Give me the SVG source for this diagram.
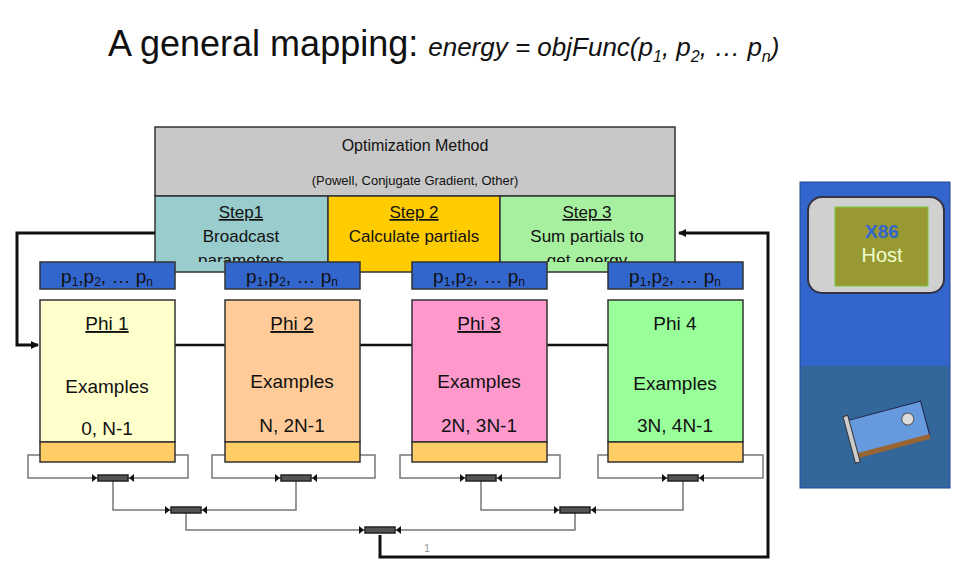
<svg xmlns="http://www.w3.org/2000/svg" width="960" height="578" viewBox="0 0 960 578">
<style>
text{font-family:"Liberation Sans",Arial,sans-serif;fill:#111}
.b{stroke:#333;stroke-width:1.5}
.t{font-size:17px;text-anchor:middle}
.u{text-decoration:underline}
.p{font-size:19px;text-anchor:middle;fill:#111}
.w{fill:none;stroke:#777;stroke-width:1.5}
.k{fill:none;stroke:#111;stroke-width:3}
.chip{fill:#555;stroke:#222;stroke-width:1.5}
</style>
<defs>
<marker id="ar" markerWidth="8" markerHeight="8" refX="7" refY="4" orient="auto" markerUnits="userSpaceOnUse"><path d="M0,0L8,4L0,8z" fill="#111"/></marker>
<g id="ch"><rect class="chip" x="-15" y="-3" width="30" height="6"/><path d="M-21,-4L-16,0L-21,4zM21,-4L16,0L21,4z" fill="#111"/></g>
<clipPath id="c1"><rect x="155" y="196" width="520" height="66"/></clipPath>
</defs>
<text x="108" y="56" style="font-size:36px">A general mapping: <tspan style="font-size:26px;font-style:italic">energy = objFunc(p<tspan font-size="16" dy="6">1</tspan><tspan dy="-6">, p</tspan><tspan font-size="16" dy="6">2</tspan><tspan dy="-6">, … p</tspan><tspan font-size="16" dy="6">n</tspan><tspan dy="-6">)</tspan></tspan></text>

<g id="opt">
<rect class="b" x="155" y="127" width="520" height="69" fill="#c8c8c8"/>
<text class="t" x="415" y="151" style="font-size:16px">Optimization Method</text>
<text class="t" x="415" y="185" style="font-size:13px">(Powell, Conjugate Gradient, Other)</text>
</g>
<g id="step1"><rect class="b" x="155" y="196" width="173" height="76" fill="#99cccc"/>
<text class="t u" x="241" y="218">Step1</text><text class="t" x="241" y="242">Broadcast</text><text class="t" x="241" y="266" clip-path="url(#c1)">parameters</text></g>
<g id="step2"><rect class="b" x="328" y="196" width="172" height="76" fill="#ffcc00"/>
<text class="t u" x="414" y="218">Step 2</text><text class="t" x="414" y="242">Calculate partials</text></g>
<g id="step3"><rect class="b" x="500" y="196" width="175" height="76" fill="#a6f0a0"/>
<text class="t u" x="587" y="218">Step 3</text><text class="t" x="587" y="242">Sum partials to</text><text class="t" x="587" y="266" clip-path="url(#c1)">get energy</text></g>

<g id="connectors">
<line x1="175" y1="345" x2="608" y2="345" stroke="#111" stroke-width="2.5"/>
<path class="k" d="M155,233H17V345H38" marker-end="url(#ar)"/>
<path class="k" d="M380,535V557H768V233H679" marker-end="url(#ar)"/>
<path class="w" d="M40,455H28V478H188V455H175M225,455H212V478H375V455H360M412,455H400V478H560V455H547M608,455H598V478H763V455H743"/>
<path class="w" d="M113,478V510H296V478M481,478V510H683V478M186,510V530H575V510"/>
<use href="#ch" x="113" y="478"/><use href="#ch" x="296" y="478"/><use href="#ch" x="481" y="478"/><use href="#ch" x="683" y="478"/>
<use href="#ch" x="186" y="510"/><use href="#ch" x="575" y="510"/><use href="#ch" x="380" y="530"/>
<text x="424" y="552" style="font-size:11px;fill:#999">1</text>
</g>

<g id="phi1"><rect class="b" x="40" y="262" width="135" height="27" fill="#3366cc"/><text class="p" x="107" y="283">p<tspan font-size="12" dy="3">1</tspan><tspan dy="-3">,p</tspan><tspan font-size="12" dy="3">2</tspan><tspan dy="-3">, … p</tspan><tspan font-size="12" dy="3">n</tspan></text>
<rect class="b" x="40" y="300" width="135" height="142" fill="#ffffcc"/><rect class="b" x="40" y="442" width="135" height="20" fill="#ffcc66"/>
<text class="p u" x="107" y="330">Phi 1</text><text class="p" x="107" y="393">Examples</text><text class="p" x="107" y="435">0, N-1</text></g>
<g id="phi2"><rect class="b" x="225" y="262" width="135" height="27" fill="#3366cc"/><text class="p" x="292" y="283">p<tspan font-size="12" dy="3">1</tspan><tspan dy="-3">,p</tspan><tspan font-size="12" dy="3">2</tspan><tspan dy="-3">, … p</tspan><tspan font-size="12" dy="3">n</tspan></text>
<rect class="b" x="225" y="300" width="135" height="142" fill="#ffcc99"/><rect class="b" x="225" y="442" width="135" height="20" fill="#ffcc66"/>
<text class="p u" x="292" y="330">Phi 2</text><text class="p" x="292" y="388">Examples</text><text class="p" x="292" y="432">N, 2N-1</text></g>
<g id="phi3"><rect class="b" x="412" y="262" width="135" height="27" fill="#3366cc"/><text class="p" x="479" y="283">p<tspan font-size="12" dy="3">1</tspan><tspan dy="-3">,p</tspan><tspan font-size="12" dy="3">2</tspan><tspan dy="-3">, … p</tspan><tspan font-size="12" dy="3">n</tspan></text>
<rect class="b" x="412" y="300" width="135" height="142" fill="#ff99cc"/><rect class="b" x="412" y="442" width="135" height="20" fill="#ffcc66"/>
<text class="p u" x="479" y="330">Phi 3</text><text class="p" x="479" y="388">Examples</text><text class="p" x="479" y="432">2N, 3N-1</text></g>
<g id="phi4"><rect class="b" x="608" y="262" width="135" height="27" fill="#3366cc"/><text class="p" x="675" y="283">p<tspan font-size="12" dy="3">1</tspan><tspan dy="-3">,p</tspan><tspan font-size="12" dy="3">2</tspan><tspan dy="-3">, … p</tspan><tspan font-size="12" dy="3">n</tspan></text>
<rect class="b" x="608" y="300" width="135" height="142" fill="#99ff99"/><rect class="b" x="608" y="442" width="135" height="20" fill="#ffcc66"/>
<text class="p" x="675" y="330">Phi 4</text><text class="p" x="675" y="390">Examples</text><text class="p" x="675" y="432">3N, 4N-1</text></g>

<g id="host">
<rect x="800" y="182" width="150" height="306" fill="#3366cc" stroke="#224488"/>
<rect x="801" y="366" width="148" height="121" fill="#336699"/>
<rect x="808" y="197" width="136" height="96" rx="14" fill="#d0d0d0" stroke="#334" stroke-width="2"/>
<rect x="835" y="207" width="93" height="79" fill="#999933" stroke="#7c3"/>
<text x="882" y="238" style="font-size:19px;text-anchor:middle;fill:#3366cc;font-weight:bold">X86</text>
<text x="882" y="262" style="font-size:20px;text-anchor:middle;fill:#eeffcc">Host</text>
<g transform="rotate(-15 890 430)">
<rect x="852" y="410" width="75" height="36" fill="#6699dd" stroke="#224"/>
<rect x="852" y="444" width="75" height="5" fill="#996633"/>
<rect x="848" y="405" width="5" height="48" fill="#ccc" stroke="#333"/>
<circle cx="910" cy="424" r="6" fill="#ddd" stroke="#555"/>
</g>
</g>
</svg>
